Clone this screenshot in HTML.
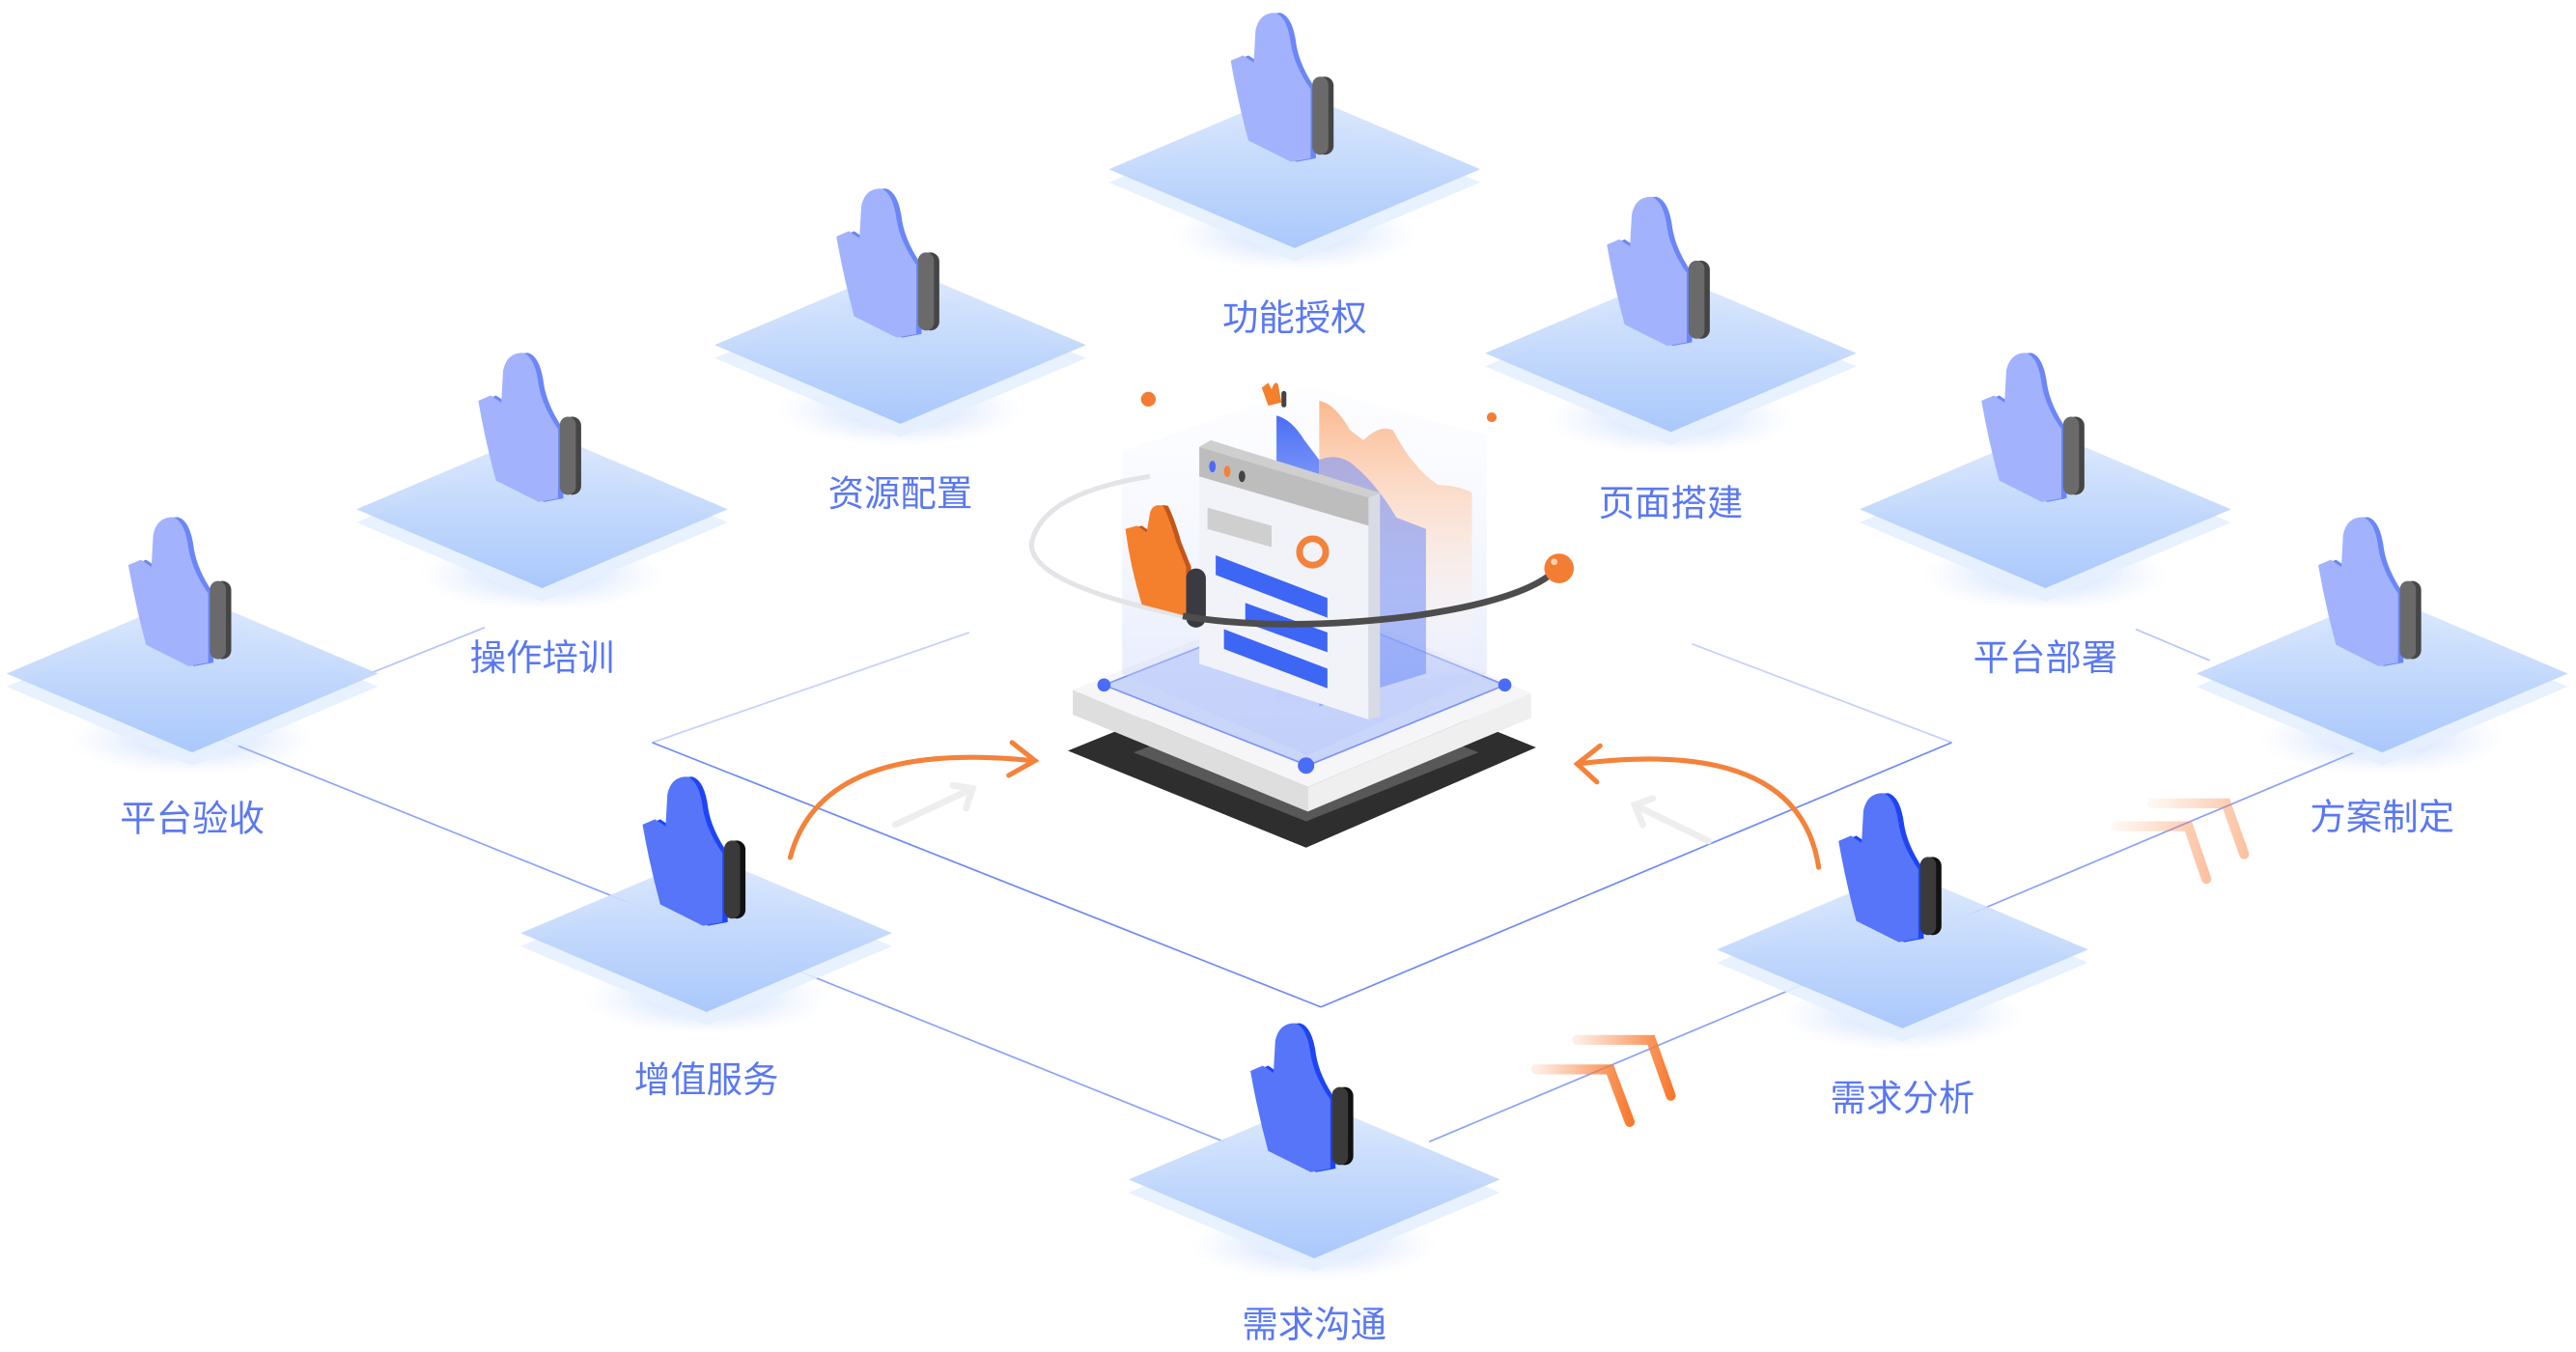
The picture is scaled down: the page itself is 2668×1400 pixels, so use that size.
<!DOCTYPE html>
<html><head><meta charset="utf-8"><style>
html,body{margin:0;padding:0;background:#fff;width:2668px;height:1400px;overflow:hidden}
svg{display:block}
text{font-family:"Liberation Sans","Noto Sans CJK SC",sans-serif;font-size:22px;fill:#5a78f2;text-anchor:middle}
</style></head><body>
<svg width="2668" height="1400" viewBox="0 0 1568 823" preserveAspectRatio="none" xmlns="http://www.w3.org/2000/svg">
<defs>
<linearGradient id="tg" x1="0" y1="0" x2="0" y2="1"><stop offset="0" stop-color="#dbe8fd"/><stop offset="1" stop-color="#a3c4fb"/></linearGradient>
<radialGradient id="gl" cx="0.5" cy="0.5" r="0.5"><stop offset="0" stop-color="#9bbcfb" stop-opacity="0.6"/><stop offset="1" stop-color="#c6dafd" stop-opacity="0"/></radialGradient>
<linearGradient id="og" x1="0" y1="0" x2="1" y2="0"><stop offset="0" stop-color="#f9894a" stop-opacity="0.15"/><stop offset="1" stop-color="#f77a30"/></linearGradient>
<linearGradient id="ob" x1="0" y1="0" x2="0" y2="1"><stop offset="0" stop-color="#fbb98f"/><stop offset="1" stop-color="#fff" stop-opacity="0"/></linearGradient>
<linearGradient id="bb" x1="0" y1="0" x2="0" y2="1"><stop offset="0" stop-color="#4a6ef5"/><stop offset="1" stop-color="#c9d6fd" stop-opacity="0.3"/></linearGradient>
<linearGradient id="glass" x1="0" y1="0" x2="0" y2="1"><stop offset="0" stop-color="#eef2ff" stop-opacity="0.2"/><stop offset="1" stop-color="#b7c7fb" stop-opacity="0.7"/></linearGradient>
<g id="tile">
<ellipse cx="0" cy="40" rx="75" ry="22" fill="url(#gl)"/>
<path d="M-113,8 L0,56 L113,8 L0,-40Z" fill="#e6effe" opacity="0.9"/>
<path d="M-113,0 L0,48 L113,0 L0,-48Z" fill="url(#tg)" opacity="0.9"/>
</g>
<path id="hp" d="M-36,-63 L-29,-66 L-23,-62 L-22,-80 Q-20,-90 -11,-90 Q-4,-88 -2,-72 Q0,-60 9,-47 L9,-8 L-2,-6 L-26,-18 Q-32,-40 -36,-63Z"/>
<g id="handL" transform="translate(0,2) scale(1.08)">
<use href="#hp" fill="#6b86f8" x="3"/>
<use href="#hp" fill="#a2b2fd"/>
<rect x="12" y="-54" width="10" height="44" rx="5" fill="#454545"/>
<rect x="10" y="-54" width="9" height="44" rx="4.5" fill="#6a6a6a"/>
</g>
<g id="handD" transform="translate(0,2) scale(1.08)">
<use href="#hp" fill="#1f44f5" x="3"/>
<use href="#hp" fill="#5675f8"/>
<rect x="12" y="-54" width="10" height="44" rx="5" fill="#111"/>
<rect x="10" y="-54" width="9" height="44" rx="4.5" fill="#3a3a3a"/>
</g>
</defs>

<g stroke="#6f8af5" stroke-width="1" fill="none">
<line x1="135" y1="450" x2="745" y2="695" opacity="0.8"/>
<line x1="870" y1="695" x2="1445" y2="453" opacity="0.8"/>
<line x1="397" y1="452" x2="804" y2="613"/>
<line x1="804" y1="613" x2="1188" y2="452"/>
<line x1="397" y1="452" x2="590" y2="385" opacity="0.4"/>
<line x1="1188" y1="452" x2="1030" y2="392" opacity="0.4"/>
<line x1="225" y1="410" x2="295" y2="382" opacity="0.5"/>
<line x1="1300" y1="383" x2="1345" y2="402" opacity="0.5"/>
</g>

<use href="#tile" x="117" y="410"/><use href="#handL" x="117" y="410"/><text x="117" y="506">平台验收</text>
<use href="#tile" x="330" y="310"/><use href="#handL" x="330" y="310"/><text x="330" y="408">操作培训</text>
<use href="#tile" x="548" y="210"/><use href="#handL" x="548" y="210"/><text x="548" y="308">资源配置</text>
<use href="#tile" x="788" y="103"/><use href="#handL" x="788" y="103"/><text x="788" y="201">功能授权</text>
<use href="#tile" x="1017" y="215"/><use href="#handL" x="1017" y="215"/><text x="1017" y="314">页面搭建</text>
<use href="#tile" x="1245" y="310"/><use href="#handL" x="1245" y="310"/><text x="1245" y="408">平台部署</text>
<use href="#tile" x="1450" y="410"/><use href="#handL" x="1450" y="410"/><text x="1450" y="505">方案制定</text>
<use href="#tile" x="430" y="568"/><use href="#handD" x="430" y="568"/><text x="430" y="665">增值服务</text>
<use href="#tile" x="1158" y="578"/><use href="#handD" x="1158" y="578"/><text x="1158" y="676">需求分析</text>
<use href="#tile" x="800" y="718"/><use href="#handD" x="800" y="718"/><text x="800" y="814">需求沟通</text>

<g fill="none" stroke="#f4823a" stroke-width="3" stroke-linecap="round">
<path d="M481,522 Q500,450 628,463"/>
<path d="M616,452 L630,463 L614,472"/>
<path d="M1107,528 Q1095,448 960,465"/>
<path d="M974,454 L960,465 L972,476"/>
</g>
<g fill="none" stroke="#eee" stroke-width="4" stroke-linecap="round">
<path d="M545,502 L592,480 M580,478 L592,480 L588,492"/>
<path d="M1040,512 L995,490 M1000,502 L995,490 L1006,486"/>
</g>
<g fill="none" stroke="url(#og)" stroke-width="6" stroke-linecap="round">
<path d="M960,633 L1005,633 L1017,667"/>
<path d="M935,651 L980,651 L992,683"/>
</g>
<g fill="none" stroke="url(#og)" stroke-width="6" stroke-linecap="round" opacity="0.45">
<path d="M1310,489 L1355,489 L1366,520"/>
<path d="M1288,503 L1332,503 L1343,535"/>
</g>

<path d="M650,457 L795,398 L935,455 L795,516Z" fill="#2e2e2e"/>
<path d="M690,458 L795,418 L900,458 L795,500Z" fill="#6b6b6b" opacity="0.7"/>
<path d="M653,420 L653,435 L796,494 L796,479Z" fill="#dedede"/>
<path d="M796,479 L796,494 L932,437 L932,422Z" fill="#efefef"/>
<path d="M653,420 L796,362 L932,422 L796,479Z" fill="#f6f6f8"/>
<path d="M672,417 L796,368 L916,417 L796,466Z" fill="#b8c8fc" opacity="0.7" stroke="#4a6cf7" stroke-width="1"/>
<path d="M683,410 L683,275 L796,235 L905,265 L905,410 L796,460Z" fill="url(#glass)" opacity="0.6"/>
<path d="M777,253 Q786,255 794,268 L803,280 L803,440 L777,430Z" fill="url(#bb)"/>
<path d="M803,244 Q812,245 822,262 L830,268 Q840,258 848,262 Q860,285 875,295 Q890,296 896,300 L896,410 L803,420Z" fill="url(#ob)"/>
<path d="M803,280 Q815,275 825,284 Q838,295 850,315 L868,322 L868,410 L803,430Z" fill="#6f8cf8" opacity="0.55"/>
<path d="M730,272 L833,303 L833,438 L730,404Z" fill="#f2f3f8"/>
<path d="M833,303 L840,300 L840,436 L833,438Z" fill="#d9dbe4"/>
<path d="M730,272 L737,268 L840,300 L833,303Z" fill="#cfcfcf"/>
<path d="M730,272 L833,303 L833,320 L730,290Z" fill="#bdbdbd"/>
<ellipse cx="738" cy="284" rx="2" ry="3.5" fill="#4a6cf7"/>
<ellipse cx="747" cy="287" rx="2" ry="3.5" fill="#f4823a"/>
<ellipse cx="756" cy="290" rx="2" ry="3.5" fill="#444"/>
<path d="M735,309 L774,320 L774,333 L735,322Z" fill="#cfcfcf"/>
<circle cx="799" cy="336" r="8" fill="none" stroke="#f4823a" stroke-width="4"/>
<path d="M740,338 L808,364 L808,376 L740,350Z" fill="#3e66f5"/>
<path d="M758,367 L808,385 L808,397 L758,379Z" fill="#3e66f5"/>
<path d="M745,383 L808,407 L808,419 L745,395Z" fill="#3e66f5"/>
<circle cx="672" cy="417" r="4" fill="#4a6cf7"/><circle cx="916" cy="417" r="4" fill="#4a6cf7"/><circle cx="795" cy="466" r="5" fill="#4a6cf7"/>
<path d="M720,375 Q625,355 628,330 Q635,300 700,290" fill="none" stroke="#e4e4e8" stroke-width="3"/>
<path d="M685,322 L692,320 L698,324 L700,312 Q702,306 708,308 Q712,316 716,330 L722,345 L722,375 L695,368 Q688,345 685,322Z" fill="#c2561a" transform="translate(3,0)"/>
<path d="M685,322 L692,320 L698,324 L700,312 Q702,306 708,308 Q712,316 716,330 L722,345 L722,375 L695,368 Q688,345 685,322Z" fill="#f4802e"/>
<rect x="722" y="346" width="12" height="36" rx="6" fill="#3a3a42"/>
<path d="M720,375 Q780,385 860,375 Q930,365 948,346" fill="none" stroke="#4d4d4d" stroke-width="4"/>
<circle cx="949" cy="346" r="9" fill="#f47d34"/><circle cx="946" cy="342" r="2" fill="#ffd0b0"/>
<circle cx="699" cy="243" r="4.5" fill="#f47d34"/>
<circle cx="908" cy="254" r="3" fill="#f47d34"/>
<path d="M768,236 L772,233 L774,237 Q776,231 778,234 L780,245 L772,247Z" fill="#f4802e"/>
<rect x="780" y="238" width="3" height="10" rx="1.5" fill="#444"/>
</svg>
</body></html>
